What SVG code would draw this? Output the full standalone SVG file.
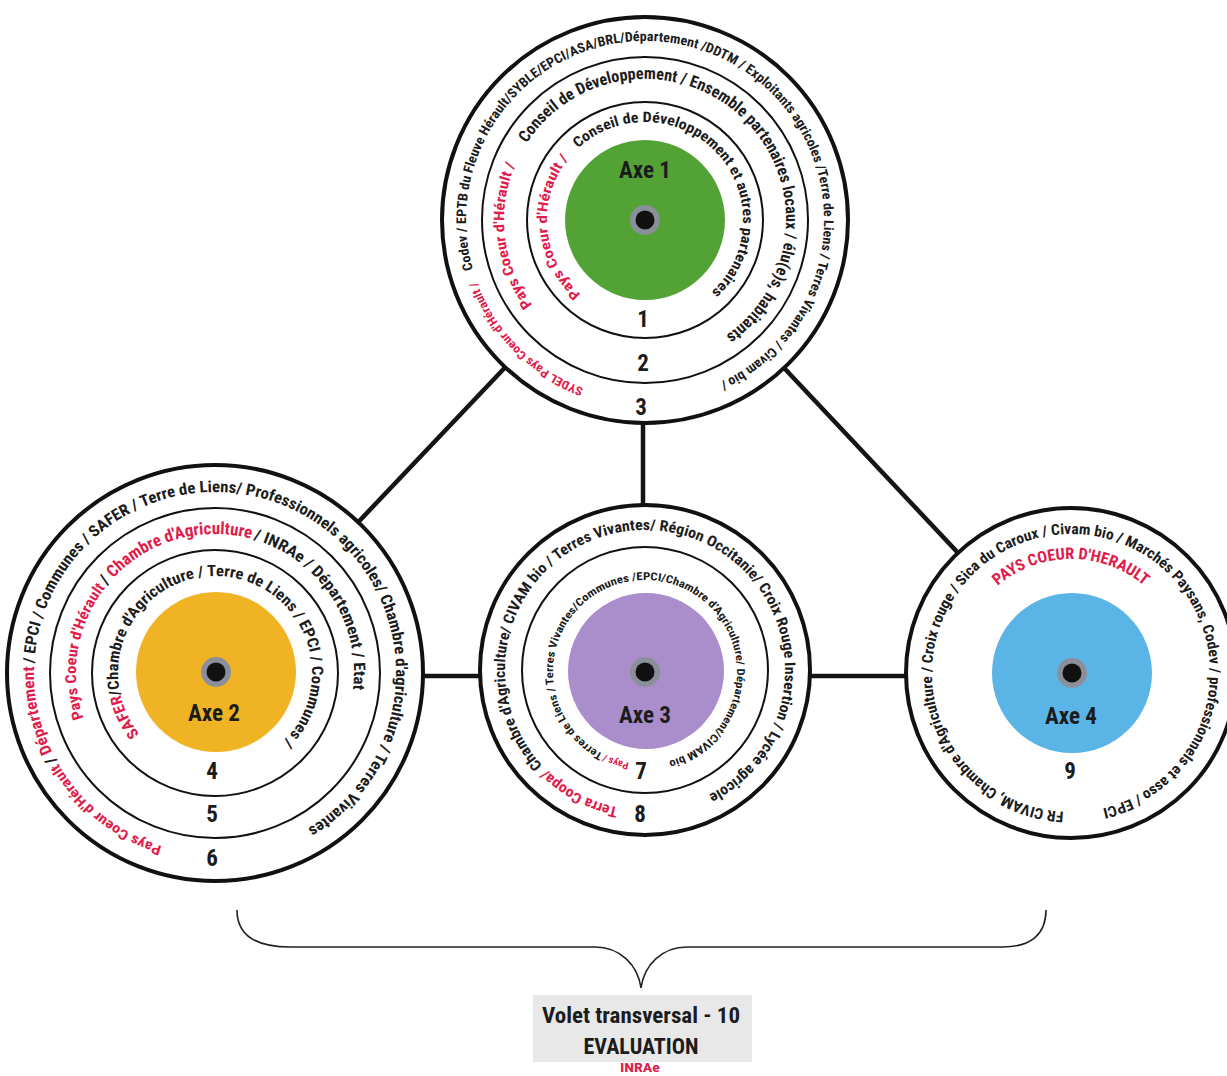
<svg xmlns="http://www.w3.org/2000/svg" xmlns:xlink="http://www.w3.org/1999/xlink" width="1227" height="1076" viewBox="0 0 1227 1076">
<style>
.t{font-family:"Roboto Condensed","Liberation Sans Narrow","DejaVu Sans Condensed","Liberation Sans",sans-serif;font-weight:bold;fill:#1c1c1c}
.r{fill:#e01c4c}
.lbl{font-size:23px;text-anchor:middle}
.num{font-size:23px;text-anchor:middle}
.ro{fill:#fff;stroke:#111;stroke-width:4}
.ri{fill:none;stroke:#111;stroke-width:2}
.conn line{stroke:#151515;stroke-width:4.5}
.hole{fill:#8b8f99}
.dot{fill:#111}
</style>
<defs>
<path id="p1a" d="M645,41 A179,179 0 1 1 645,399 A179,179 0 1 1 645,41"/>
<path id="p1b" d="M645,79 A141,141 0 1 1 645,361 A141,141 0 1 1 645,79"/>
<path id="p1c" d="M645,122 A98,98 0 1 1 645,318 A98,98 0 1 1 645,122"/>
<path id="p2a" d="M215,492 A181,181 0 1 1 215,854 A181,181 0 1 1 215,492"/>
<path id="p2b" d="M215,534 A139,139 0 1 1 215,812 A139,139 0 1 1 215,534"/>
<path id="p2c" d="M215,576 A97,97 0 1 1 215,770 A97,97 0 1 1 215,576"/>
<path id="p3a" d="M645,530 A140,140 0 1 1 645,810 A140,140 0 1 1 645,530"/>
<path id="p3b" d="M645,580 A92,92 0 1 1 645,764 A92,92 0 1 1 645,580"/>
<path id="p4a" d="M1071,534 A139,139 0 1 1 1071,812 A139,139 0 1 1 1071,534"/>
<path id="p4b" d="M1071,559 A114,114 0 1 1 1071,787 A114,114 0 1 1 1071,559"/>
</defs>
<rect width="1227" height="1076" fill="#fff"/>
<g id="connectors" class="conn">
<line x1="645" y1="220" x2="215" y2="673"/>
<line x1="645" y1="220" x2="1071" y2="673"/>
<line x1="643" y1="220" x2="643" y2="670"/>
<line x1="215" y1="676" x2="645" y2="676"/>
<line x1="645" y1="676" x2="1071" y2="676"/>
</g>
<g id="axe1">
<circle class="ro" cx="645" cy="220" r="203"/>
<circle class="ri" cx="645" cy="220" r="163"/>
<circle class="ri" cx="645" cy="220" r="118"/>
<circle cx="645" cy="220" r="80" fill="#52a236"/>
<circle class="hole" cx="645" cy="220" r="15"/>
<circle class="dot" cx="645" cy="220" r="9.5"/>
<text class="t" font-size="12" transform="rotate(200 645 220)"><textPath href="#p1a" xlink:href="#p1a" textLength="156" lengthAdjust="spacingAndGlyphs"><tspan class="r">SYDEL Pays Coeur d'Hérault /</tspan></textPath></text>
<text class="t" font-size="13.5" transform="rotate(254 645 220)"><textPath href="#p1a" xlink:href="#p1a" textLength="816" lengthAdjust="spacingAndGlyphs">Codev / EPTB du Fleuve Hérault/SYBLE/EPCI/ASA/BRL/Département /DDTM / Exploitants agricoles /Terre de Liens / Terres Vivantes / Civam bio /</textPath></text>
<text class="t" font-size="14.5" transform="rotate(233 645 220)"><textPath href="#p1b" xlink:href="#p1b" textLength="148" lengthAdjust="spacingAndGlyphs"><tspan class="r">Pays Coeur d'Hérault /</tspan></textPath></text>
<text class="t" font-size="16.5" transform="rotate(303 645 220)"><textPath href="#p1b" xlink:href="#p1b" textLength="497" lengthAdjust="spacingAndGlyphs">Conseil de Développement / Ensemble partenaires locaux / élu(e)s, habitants</textPath></text>
<text class="t" font-size="14" transform="rotate(221 645 220)"><textPath href="#p1c" xlink:href="#p1c" textLength="150" lengthAdjust="spacingAndGlyphs"><tspan class="r">Pays Coeur d'Hérault /</tspan></textPath></text>
<text class="t" font-size="14.5" transform="rotate(317 645 220)"><textPath href="#p1c" xlink:href="#p1c" textLength="308" lengthAdjust="spacingAndGlyphs">Conseil de Développement et autres partenaires</textPath></text>
<text class="t lbl" x="645" y="178" textLength="52" lengthAdjust="spacingAndGlyphs">Axe 1</text>
<text class="t num" x="643" y="327">1</text>
<text class="t num" x="643" y="371">2</text>
<text class="t num" x="641" y="415">3</text>
</g>
<g id="axe2">
<circle class="ro" cx="215" cy="673" r="208"/>
<circle class="ri" cx="215" cy="673" r="165"/>
<circle class="ri" cx="215" cy="673" r="123"/>
<circle cx="216" cy="672" r="80" fill="#f0b323"/>
<circle class="hole" cx="216" cy="672" r="15"/>
<circle class="dot" cx="216" cy="672" r="9.5"/>
<text class="t" font-size="14" transform="rotate(197 215 673)"><textPath href="#p2a" xlink:href="#p2a" textLength="136" lengthAdjust="spacingAndGlyphs"><tspan class="r">Pays Coeur d'Hérault</tspan></textPath></text>
<text class="t" font-size="16" transform="rotate(241 215 673)"><textPath href="#p2a" xlink:href="#p2a" textLength="98" lengthAdjust="spacingAndGlyphs">/ <tspan class="r">Département</tspan></textPath></text>
<text class="t" font-size="16" transform="rotate(273 215 673)"><textPath href="#p2a" xlink:href="#p2a" textLength="746" lengthAdjust="spacingAndGlyphs">/ EPCI / Communes / SAFER / Terre de Liens/ Professionnels agricoles/ Chambre d'agriculture / Terres Vivantes</textPath></text>
<text class="t" font-size="15" transform="rotate(251 215 673)"><textPath href="#p2b" xlink:href="#p2b" textLength="138" lengthAdjust="spacingAndGlyphs"><tspan class="r">Pays Coeur d'Hérault</tspan></textPath></text>
<text class="t" font-size="17" transform="rotate(309 215 673)"><textPath href="#p2b" xlink:href="#p2b" textLength="160" lengthAdjust="spacingAndGlyphs">/ <tspan class="r">Chambre d'Agriculture</tspan></textPath></text>
<text class="t" font-size="16" transform="rotate(16 215 673)"><textPath href="#p2b" xlink:href="#p2b" textLength="196" lengthAdjust="spacingAndGlyphs">/ INRAe / Département / Etat</textPath></text>
<text class="t" font-size="15.5" transform="rotate(231 215 673)"><textPath href="#p2c" xlink:href="#p2c" textLength="447" lengthAdjust="spacingAndGlyphs"><tspan class="r">SAFER</tspan>/Chambre d'Agriculture / Terre de Liens / EPCI / Communes /</textPath></text>
<text class="t lbl" x="214" y="721" textLength="52" lengthAdjust="spacingAndGlyphs">Axe 2</text>
<text class="t num" x="212" y="779">4</text>
<text class="t num" x="212" y="822">5</text>
<text class="t num" x="212" y="866">6</text>
</g>
<g id="axe3">
<circle class="ro" cx="645" cy="670" r="165"/>
<circle class="ri" cx="645" cy="670" r="123"/>
<circle cx="646" cy="671" r="78" fill="#a98ecb"/>
<circle class="hole" cx="645" cy="672" r="15"/>
<circle class="dot" cx="645" cy="672" r="9.5"/>
<text class="t" font-size="15" transform="rotate(191 645 670)"><textPath href="#p3a" xlink:href="#p3a" textLength="83" lengthAdjust="spacingAndGlyphs"><tspan class="r">Terra Coopa/</tspan></textPath></text>
<text class="t" font-size="15" transform="rotate(227 645 670)"><textPath href="#p3a" xlink:href="#p3a" textLength="699" lengthAdjust="spacingAndGlyphs">Chambre d'Agriculture/ CIVAM bio / Terres Vivantes/ Région Occitanie/ Croix Rouge Insertion / Lycée agricole</textPath></text>
<text class="t" font-size="10" transform="rotate(190 645 672)"><textPath href="#p3b" xlink:href="#p3b" textLength="26" lengthAdjust="spacingAndGlyphs"><tspan class="r">Pays /</tspan></textPath></text>
<text class="t" font-size="11" transform="rotate(207 645 672)"><textPath href="#p3b" xlink:href="#p3b" textLength="510" lengthAdjust="spacingAndGlyphs">Terres de Liens / Terres Vivantes/Communes /EPCI/Chambre d'Agriculture/ Département/CIVAM bio</textPath></text>
<text class="t lbl" x="645" y="723" textLength="52" lengthAdjust="spacingAndGlyphs">Axe 3</text>
<text class="t num" x="641" y="779">7</text>
<text class="t num" x="640" y="822">8</text>
</g>
<g id="axe4">
<circle class="ro" cx="1071" cy="673" r="165"/>
<circle cx="1072" cy="673" r="80" fill="#5bb4e6"/>
<circle class="hole" cx="1072" cy="673" r="15"/>
<circle class="dot" cx="1072" cy="673" r="9.5"/>
<text class="t" font-size="15" transform="rotate(183 1071 673)"><textPath href="#p4a" xlink:href="#p4a" textLength="834" lengthAdjust="spacingAndGlyphs">FR CIVAM, Chambre d'Agriculture / Croix rouge / Sica du Caroux / Civam bio / Marchés Paysans, Codev / professionnels et asso / EPCI</textPath></text>
<text class="t" font-size="16" transform="rotate(-40 1071 673)"><textPath href="#p4b" xlink:href="#p4b" textLength="159" lengthAdjust="spacingAndGlyphs"><tspan class="r">PAYS COEUR D'HERAULT</tspan></textPath></text>
<text class="t lbl" x="1071" y="724" textLength="52" lengthAdjust="spacingAndGlyphs">Axe 4</text>
<text class="t num" x="1070" y="779">9</text>
</g>
<g id="transversal">
<path d="M237,910 C237,935 255,947 290,947 L595,947 C620,947 638,965 641,988 C644,965 662,947 687,947 L1003,947 C1030,947 1046,935 1046,910" fill="none" stroke="#222" stroke-width="1.6"/>
<rect x="533" y="995" width="219" height="67" fill="#e8e8e8"/>
<text class="t" x="641" y="1023" font-size="22" text-anchor="middle" textLength="198" lengthAdjust="spacingAndGlyphs">Volet transversal - 10</text>
<text class="t" x="641" y="1054" font-size="22" text-anchor="middle" textLength="115" lengthAdjust="spacingAndGlyphs">EVALUATION</text>
<text class="t r" x="640" y="1072" font-size="13" text-anchor="middle" textLength="40" lengthAdjust="spacingAndGlyphs">INRAe</text>
</g>
</svg>
